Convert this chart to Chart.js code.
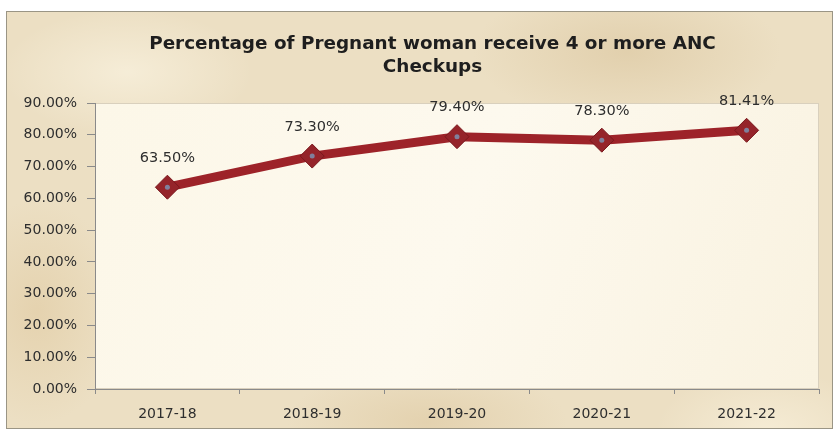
<!DOCTYPE html>
<html><head><meta charset="utf-8">
<script src="https://cdn.jsdelivr.net/npm/chart.js@4"></script>
<style>
html,body{margin:0;padding:0;background:#fff;width:837px;height:435px;overflow:hidden}
#frame{position:absolute;left:6px;top:11px;width:825px;height:416px;border:1px solid #9a9585;
background:
radial-gradient(ellipse 180px 90px at 120px 60px, rgba(255,250,235,0.5), rgba(255,250,235,0) 70%),
radial-gradient(ellipse 220px 100px at 620px 40px, rgba(210,185,140,0.4), rgba(210,185,140,0) 70%),
radial-gradient(ellipse 200px 80px at 420px 410px, rgba(215,190,145,0.4), rgba(215,190,145,0) 70%),
radial-gradient(ellipse 120px 160px at 30px 300px, rgba(220,195,150,0.45), rgba(220,195,150,0) 70%),
radial-gradient(ellipse 160px 90px at 760px 420px, rgba(255,248,230,0.5), rgba(255,248,230,0) 70%),
#ecdfc3;}
canvas{display:block}
</style></head>
<body>
<div id="frame"><canvas id="c" width="825" height="416"></canvas></div>
<script>
const categories = ["2017-18","2018-19","2019-20","2020-21","2021-22"];
const values = [63.50, 73.30, 79.40, 78.30, 81.41];
const valueLabels = ["63.50%","73.30%","79.40%","78.30%","81.41%"];
const titleLines = ["Percentage of Pregnant woman receive 4 or more ANC","Checkups"];
const yMin = 0, yMax = 90, yStep = 10;

const FONT = '"DejaVu Sans", sans-serif';

const plotBg = {
  id:'plotBg',
  beforeDraw(chart){
    const {ctx, chartArea:a} = chart;
    ctx.save();
    const g = ctx.createLinearGradient(a.left, a.top, a.right, a.bottom);
    g.addColorStop(0,'#fcf7e8'); g.addColorStop(0.5,'#fdf9ee'); g.addColorStop(1,'#f9f2e0');
    ctx.fillStyle = g;
    ctx.fillRect(a.left, a.top, a.right-a.left, a.bottom-a.top);
    ctx.strokeStyle = '#d9d0bd'; ctx.lineWidth = 1;
    ctx.strokeRect(a.left+0.5, a.top+0.5, a.right-a.left-1, a.bottom-a.top-1);
    ctx.restore();
  }
};
const titleDraw = {
  id:'titleDraw',
  afterDraw(chart){
    const ctx = chart.ctx;
    ctx.save();
    ctx.font = 'bold 18.4px ' + FONT;
    ctx.fillStyle = '#1e1e1e';
    ctx.textAlign = 'center'; ctx.textBaseline = 'middle';
    const cx = chart.width/2 + 13;
    titleLines.forEach((t,i)=>ctx.fillText(t, cx, 32 + i*23));
    ctx.restore();
  }
};
const dataLabels = {
  id:'dataLabels',
  afterDatasetsDraw(chart){
    const meta = chart.getDatasetMeta(0);
    const ctx = chart.ctx;
    ctx.save();
    ctx.font = '14.5px ' + FONT;
    ctx.fillStyle = '#2e2e2e';
    ctx.textAlign = 'center'; ctx.textBaseline = 'middle';
    meta.data.forEach((p,i)=>{ ctx.fillText(valueLabels[i], p.x, p.y-29); });
    ctx.restore();
  }
};

new Chart(document.getElementById('c'), {
  type:'line',
  data:{
    labels: categories,
    datasets:[
      {data: values, borderColor:'#9d2329', borderWidth:9, pointStyle:'rectRot',
       pointRadius:12, pointBackgroundColor:'#95242a', pointBorderColor:'#7a181d', pointBorderWidth:1,
       tension:0, order:2},
      {data: values, showLine:false, pointStyle:'circle', pointRadius:2.5,
       pointBackgroundColor:'#80809c', pointBorderWidth:0, order:1}
    ]
  },
  options:{
    responsive:false, animation:false, devicePixelRatio:1,
    layout:{padding:{left:0,right:13,top:91,bottom:0}},
    plugins:{
      legend:{display:false}, tooltip:{enabled:false}, title:{display:false}
    },
    scales:{
      x:{offset:true,
        grid:{display:true, offset:true, drawOnChartArea:false, drawTicks:true, tickLength:5, color:'#8a8a8a'},
        border:{display:true, color:'#8a8a8a', width:1},
        ticks:{color:'#2e2e2e', padding:12, font:{family:FONT, size:14}},
        afterFit(s){ s.height = 39; }
      },
      y:{min:yMin, max:yMax,
        grid:{display:true, drawOnChartArea:false, drawTicks:true, tickLength:8, color:'#8a8a8a'},
        border:{display:true, color:'#8a8a8a', width:1},
        ticks:{stepSize:yStep, color:'#2e2e2e', padding:10,
          font:{family:FONT, size:14},
          callback:v=>v.toFixed(2)+'%'},
        afterFit(s){ s.width = 88; }
      }
    }
  },
  plugins:[plotBg, dataLabels, titleDraw]
});
</script>
</body></html>
